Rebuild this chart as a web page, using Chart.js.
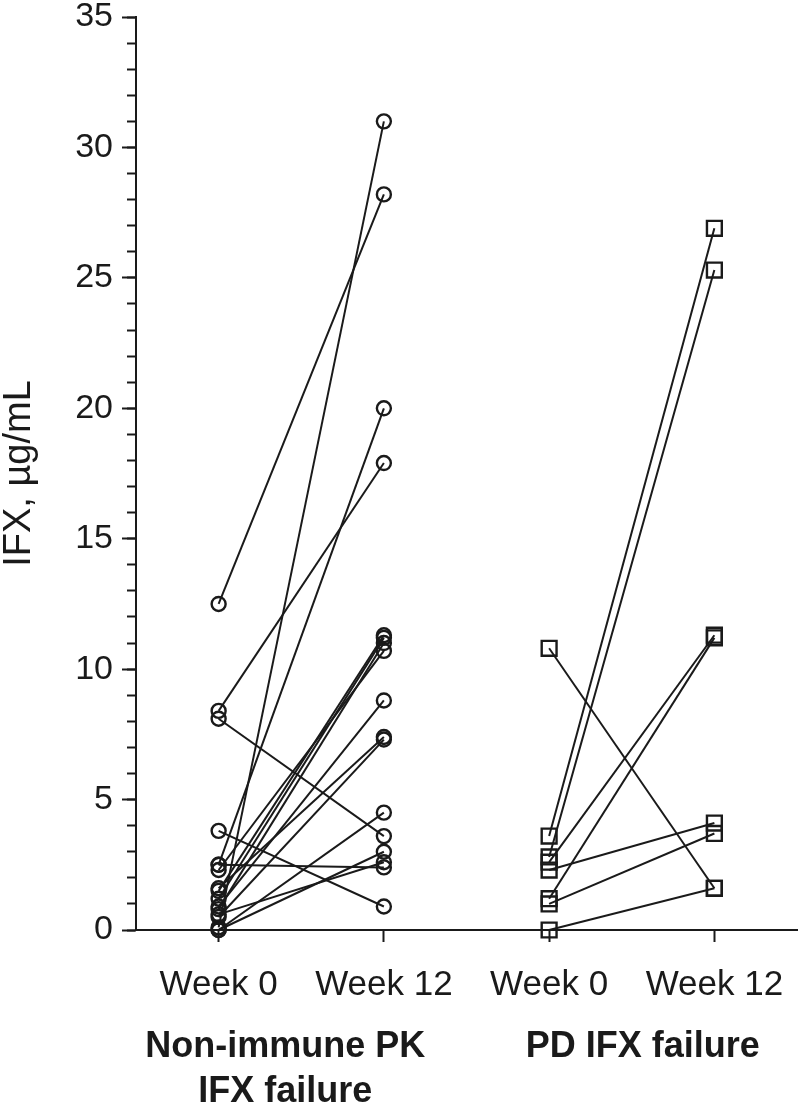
<!DOCTYPE html>
<html>
<head>
<meta charset="utf-8">
<script src="https://cdn.jsdelivr.net/npm/chart.js@4"></script>
<style>
  html, body { margin: 0; padding: 0; background: #fff; }
  #wrap { width: 800px; height: 1103px; }
</style>
</head>
<body>
<div id="wrap"><canvas id="ifxChart" width="800" height="1103"></canvas></div>
<script>
const timeLabels = ["Week 0", "Week 12", "Week 0", "Week 12"];
const groupLabels = [["Non-immune PK", "IFX failure"], ["PD IFX failure"]];

// non-immune PK IFX failure, one entry per patient
const nonImmuneWeek0 = [12.5, 8.4, 8.1, 3.8, 2.5, 2.5, 0.1, 1.5, 1.2, 0.8, 2.3, 0.9, 1.6, 0.5, 0.0, 0.0, 0.6];
const nonImmuneWeek12 = [28.2, 17.9, 3.6, 0.9, 2.4, 20.0, 31.0, 11.3, 11.2, 11.0, 10.7, 8.8, 7.4, 7.3, 4.5, 3.0, 2.6];

// PD IFX failure
const pdWeek0 = [10.8, 0.0, 3.6, 2.8, 2.6, 2.3, 1.2, 1.0];
const pdWeek12 = [1.6, 1.6, 26.9, 25.3, 11.3, 4.1, 11.2, 3.7];

const ink = "#1a1a1a";
const font = "'Liberation Sans', Arial, sans-serif";

const datasets = [];
nonImmuneWeek0.forEach((v, i) => {
  datasets.push({
    data: [v, nonImmuneWeek12[i], null, null],
    pointStyle: "circle",
    pointRadius: 7,
  });
});
pdWeek0.forEach((v, i) => {
  datasets.push({
    data: [null, null, v, pdWeek12[i]],
    pointStyle: "rect",
    pointRadius: 10.5,
  });
});
datasets.forEach((d) => {
  d.borderColor = ink;
  d.borderWidth = 2;
  d.pointBorderColor = ink;
  d.pointBorderWidth = 2.4;
  d.pointBackgroundColor = "rgba(0,0,0,0)";
  d.spanGaps = false;
  d.tension = 0;
  d.clip = false;
});

// bold group names under the week labels
const groupShift = [-16, 11];
const groupTitles = {
  id: "groupTitles",
  afterDraw(chart) {
    const { ctx, chartArea } = chart;
    const x = chart.scales.x;
    ctx.save();
    ctx.fillStyle = ink;
    ctx.font = "bold 36px " + font;
    ctx.textAlign = "center";
    ctx.textBaseline = "middle";
    groupLabels.forEach((lines, g) => {
      const cx = (x.getPixelForValue(g * 2) + x.getPixelForValue(g * 2 + 1)) / 2 + groupShift[g];
      lines.forEach((t, k) => {
        ctx.fillText(t, cx, chartArea.bottom + 117 + k * 45);
      });
    });
    ctx.restore();
  },
};

new Chart(document.getElementById("ifxChart"), {
  type: "line",
  data: { labels: timeLabels, datasets: datasets },
  options: {
    responsive: false,
    animation: false,
    layout: { autoPadding: false, padding: { top: 17, right: 3, bottom: 0, left: 0 } },
    plugins: { legend: { display: false }, tooltip: { enabled: false } },
    scales: {
      x: {
        type: "category",
        offset: true,
        grid: {
          offset: false,
          drawOnChartArea: false,
          tickLength: 12,
          tickWidth: 2,
          tickColor: ink,
        },
        border: { color: ink, width: 2 },
        ticks: {
          color: ink,
          font: { family: font, size: 35, lineHeight: 2 },
          padding: 8,
          maxRotation: 0,
          autoSkip: false,
        },
        afterFit: (s) => {
          s.height = 173;
          s.paddingLeft = 0;
          s.paddingRight = 0;
        },
      },
      y: {
        position: "left",
        weight: 1,
        min: 0,
        max: 35,
        ticks: {
          stepSize: 5,
          color: ink,
          font: { family: font, size: 34, lineHeight: 1 },
          padding: 9,
        },
        grid: {
          drawOnChartArea: false,
          tickLength: 14,
          tickWidth: 2,
          tickColor: ink,
        },
        border: { color: ink, width: 2 },
        title: {
          display: true,
          text: "IFX, µg/mL",
          color: ink,
          font: { family: font, size: 38, lineHeight: 1 },
          padding: { top: 1, bottom: 0 },
        },
        afterFit: (s) => {
          s.width = 136;
          s.paddingTop = 0;
          s.paddingBottom = 0;
        },
      },
      yMinor: {
        position: "left",
        weight: 0,
        min: 0,
        max: 35,
        ticks: {
          stepSize: 1,
          callback: () => "",
          font: { size: 1 },
        },
        grid: {
          drawOnChartArea: false,
          tickLength: 9,
          tickWidth: 2,
          tickColor: ink,
        },
        border: { display: false },
        afterFit: (s) => {
          s.width = 0;
          s.paddingTop = 0;
          s.paddingBottom = 0;
        },
      },
    },
  },
  plugins: [groupTitles],
});
</script>
</body>
</html>
